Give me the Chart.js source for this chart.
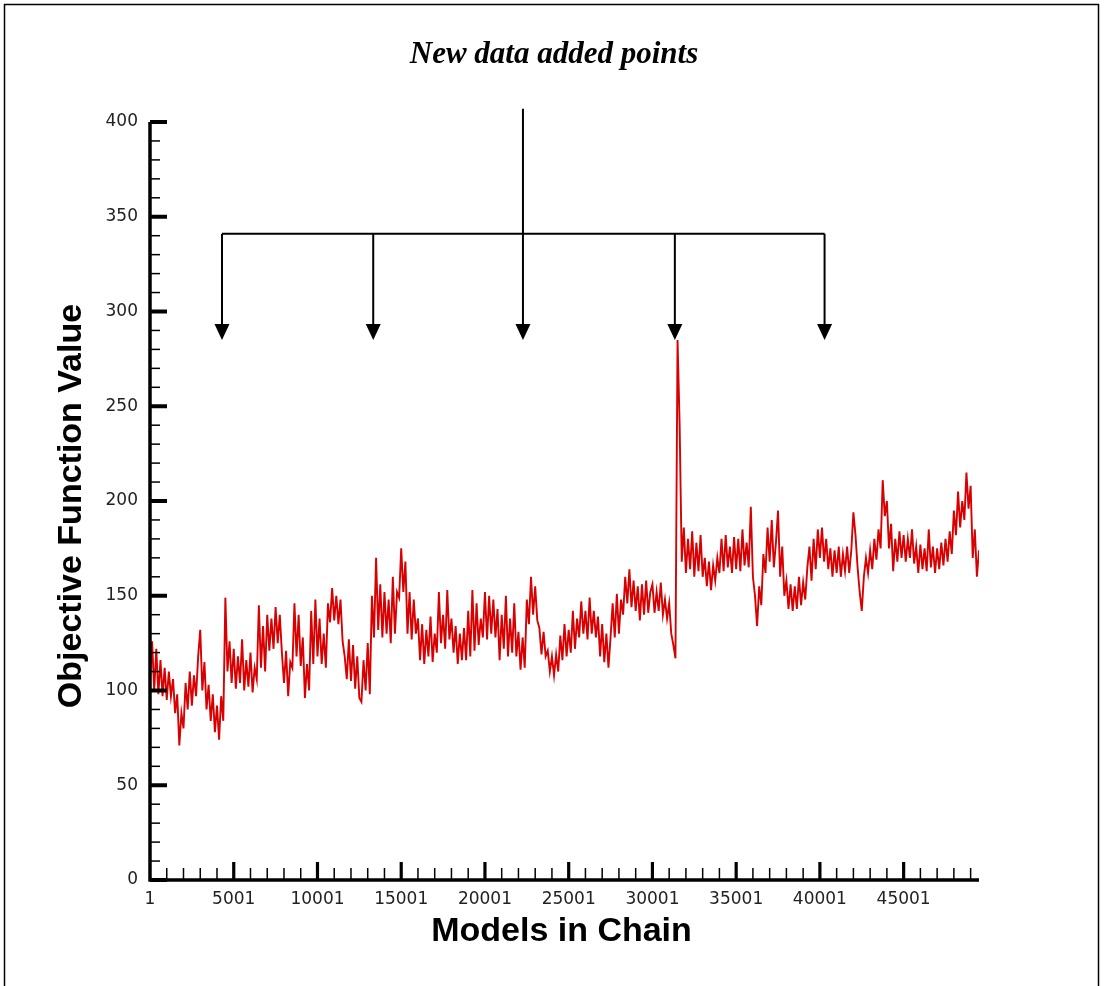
<!DOCTYPE html>
<html>
<head>
<meta charset="utf-8">
<title>New data added points</title>
<script src="https://cdn.jsdelivr.net/npm/chart.js@4.4.1/dist/chart.umd.min.js"></script>
<style>
  html, body { margin: 0; padding: 0; background: #fff; }
  #wrap { width: 1104px; height: 986px; }
</style>
</head>
<body>
<div id="wrap"><canvas id="chain" width="1104" height="986"></canvas></div>
<script>
// Objective function value along the MCMC chain, sampled every 125 models
// (read off the plot by eye, one row per 5000 models).
const FIRST_MODEL = 1;
const MODEL_STEP = 125;
const X_MAX = 49501;
const X_MAJOR = [1, 5001, 10001, 15001, 20001, 25001, 30001, 35001, 40001, 45001];
const Y_MAJOR = [0, 50, 100, 150, 200, 250, 300, 350, 400];

const objective = [
  105,126,100,122, 98,116, 97,112, 95,110, 97,106, 88, 98, 71, 88, 80,104, 90,110,
   92,108, 97,118,132,100,115, 90,103, 84, 98, 78, 92, 74, 97, 84,149,110,126,104,
  122,101,118,104,127,100,116,102,120, 99,112,106,145,112,134,110,140,121,138,122,
  144,125,140,120,104,121, 97,115,112,146,118,140,113,128, 96,114,100,142,114,148,
  118,138,114,130,112,146,136,154,137,150,135,148,126,118,106,127,105,124,101,118,
   96, 94,116,100,125, 98,150,128,170,132,156,128,152,130,148,125,160,130,152,149,
  175,152,168,130,152,127,148,130,138,116,135,114,132,118,139,115,130,120,152,125,
  140,122,153,127,138,120,134,114,130,116,133,116,142,118,153,121,146,124,138,128,
  152,127,150,130,148,128,143,116,140,122,150,118,138,120,146,118,131,111,128,112,
  148,135,160,140,155,137,133,119,131,118,121,110,118,108,119,110,129,116,135,118,
  132,120,142,122,138,128,147,130,142,127,149,130,142,128,139,118,135,115,130,112,
  128,146,128,151,130,148,140,160,146,164,144,158,142,155,137,156,140,158,141,152,
  156,141,152,142,157,140,148,138,146,130,124,117,285,240,168,186,162,180,164,184,
  160,178,163,182,160,170,155,168,153,166,158,170,162,180,163,182,165,176,162,181,
  164,180,163,185,166,178,165,197,160,150,134,155,145,172,162,186,168,190,165,178,
  195,160,176,150,158,143,156,142,155,143,160,145,157,148,165,176,158,180,164,185,
  170,186,168,180,164,175,160,174,162,176,160,172,163,176,162,174,194,182,165,152,
  142,160,170,162,174,164,180,169,185,175,211,192,200,175,188,163,180,168,184,170,
  182,168,180,170,185,167,176,162,177,164,175,163,185,165,176,162,175,164,178,166,
  180,168,184,172,195,182,205,186,200,190,215,196,208,170,185,160,174
];

// "New data added points" annotation: where new data came in (model index)
const ADDED_AT = [4300, 13330, 22270, 31340, 40280];
const BRACKET_VALUE = 341;   // horizontal bar
const STEM_TOP_VALUE = 407;  // top of the centre stem
const ARROW_TIP_VALUE = 285;

const points = objective.map((v, i) => ({ x: FIRST_MODEL + i * MODEL_STEP, y: v }));

function seg(ctx, x0, y0, x1, y1) {
  ctx.beginPath();
  ctx.moveTo(x0, y0);
  ctx.lineTo(x1, y1);
  ctx.stroke();
}

const decorations = {
  id: 'decorations',
  afterDraw(chart) {
    const { ctx, scales: { x, y } } = chart;
    const left = x.getPixelForValue(FIRST_MODEL);
    const right = x.getPixelForValue(X_MAX);
    const bottom = y.getPixelForValue(0);
    const top = y.getPixelForValue(400);
    ctx.save();
    ctx.strokeStyle = '#000';
    ctx.fillStyle = '#000';

    // page frame
    ctx.lineWidth = 1.5;
    ctx.strokeRect(4.5, 4.5, chart.width - 10, chart.height + 10);

    // axis lines
    ctx.lineWidth = 3.5;
    seg(ctx, left, bottom + 1.75, left, top);
    seg(ctx, left, bottom, right, bottom);

    // y ticks (inward)
    for (let v = 0; v <= 400; v += 10) {
      const py = y.getPixelForValue(v);
      const major = v % 50 === 0;
      ctx.lineWidth = major ? 4 : 1.5;
      seg(ctx, left, py, left + (major ? 17 : 10), py);
    }
    // x ticks (upward)
    for (let m = 1001; m <= X_MAX; m += 1000) {
      const px = x.getPixelForValue(m);
      const major = (m - 1) % 5000 === 0;
      ctx.lineWidth = major ? 3.2 : 1.5;
      seg(ctx, px, bottom, px, bottom - (major ? 18 : 12));
    }

    // tick labels
    ctx.fillStyle = '#222';
    ctx.font = '17px "DejaVu Sans"';
    ctx.textAlign = 'right';
    ctx.textBaseline = 'middle';
    Y_MAJOR.forEach(v => ctx.fillText(String(v), left - 12, y.getPixelForValue(v)));
    ctx.textAlign = 'center';
    ctx.textBaseline = 'top';
    X_MAJOR.forEach(m => ctx.fillText(String(m), x.getPixelForValue(m), bottom + 11));

    // axis titles
    ctx.fillStyle = '#000';
    ctx.font = 'bold 34px "Liberation Sans"';
    ctx.textBaseline = 'middle';
    ctx.fillText('Models in Chain', (left + right) / 2 - 3, bottom + 52);
    ctx.save();
    ctx.translate(72, (top + bottom) / 2 + 5);
    ctx.rotate(-Math.PI / 2);
    ctx.fillText('Objective Function Value', 0, 0);
    ctx.restore();

    // title
    ctx.font = 'italic bold 31px "Liberation Serif"';
    ctx.fillText('New data added points', chart.width / 2 + 2, 55);

    // bracket + arrows
    const by = y.getPixelForValue(BRACKET_VALUE);
    const tip = y.getPixelForValue(ARROW_TIP_VALUE);
    const xs = ADDED_AT.map(m => x.getPixelForValue(m));
    ctx.lineWidth = 2;
    seg(ctx, xs[0], by, xs[xs.length - 1], by);
    seg(ctx, xs[2], y.getPixelForValue(STEM_TOP_VALUE), xs[2], by);
    xs.forEach(px => {
      seg(ctx, px, by, px, tip - 12);
      ctx.beginPath();
      ctx.moveTo(px - 7.5, tip - 16);
      ctx.lineTo(px + 7.5, tip - 16);
      ctx.lineTo(px, tip);
      ctx.closePath();
      ctx.fill();
    });
    ctx.restore();
  }
};

new Chart(document.getElementById('chain'), {
  type: 'line',
  data: {
    datasets: [{
      data: points,
      borderColor: '#d80000',
      borderWidth: 1.9,
      borderJoinStyle: 'miter',
      pointRadius: 0,
      tension: 0,
      fill: false
    }]
  },
  options: {
    responsive: false,
    animation: false,
    layout: { padding: { left: 150, right: 125, top: 122, bottom: 106 } },
    plugins: { legend: { display: false }, tooltip: { enabled: false } },
    scales: {
      x: { type: 'linear', min: FIRST_MODEL, max: X_MAX, display: false },
      y: { min: 0, max: 400, display: false }
    }
  },
  plugins: [decorations]
});
</script>
</body>
</html>
